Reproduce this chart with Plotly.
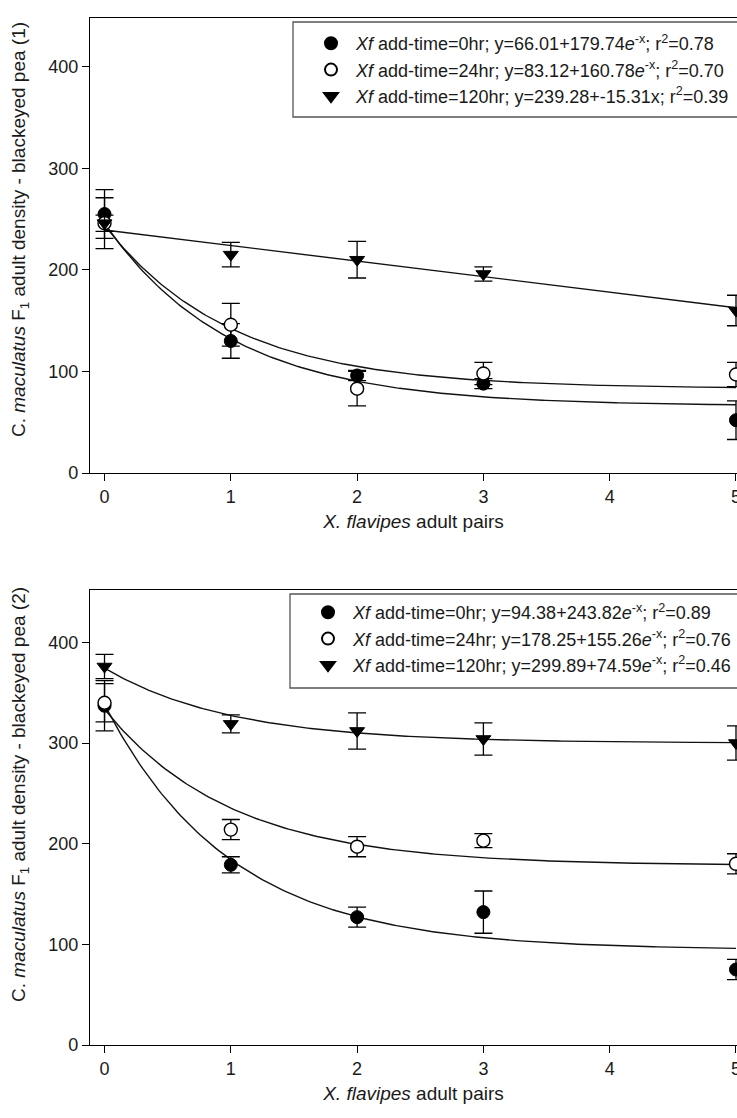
import numpy as np
import plotly.graph_objects as go

W, H = 737, 1118

# ---------------- data ----------------
pairs = [0, 1, 2, 3, 5]

# panel 1
p1_0hr = [255, 130, 96, 88, 52]
p1_0hr_err = [24, 17, 5, 5, 19]
p1_24hr = [246, 146, 83, 98, 97]
p1_24hr_err = [25, 21, 17, 11, 12]
p1_120hr = [246, 215, 210, 196, 160]
p1_120hr_err = [8, 12, 18, 7, 15]

# panel 2
p2_0hr = [337, 179, 127, 132, 75]
p2_0hr_err = [25, 8, 10, 21, 10]
p2_24hr = [340, 214, 197, 203, 180]
p2_24hr_err = [19, 10, 10, 7, 10]
p2_120hr = [376, 319, 312, 304, 300]
p2_120hr_err = [12, 9, 18, 16, 17]

# fitted-equation coefficients given in the legends
p1_fit_0hr = (66.01, 179.74)      # a + b*exp(-x)
p1_fit_24hr = (83.12, 160.78)     # a + b*exp(-x)
p1_fit_120hr = (239.28, -15.31)   # a + b*x
p2_fit_0hr = (94.38, 243.82)
p2_fit_24hr = (178.25, 155.26)
p2_fit_120hr = (299.89, 74.59)

p1_labels = [
    "<i>Xf</i> add-time=0hr; y=66.01+179.74<i>e</i><sup>-x</sup>; r<sup>2</sup>=0.78",
    "<i>Xf</i> add-time=24hr; y=83.12+160.78<i>e</i><sup>-x</sup>; r<sup>2</sup>=0.70",
    "<i>Xf</i> add-time=120hr; y=239.28+-15.31x; r<sup>2</sup>=0.39",
]
p2_labels = [
    "<i>Xf</i> add-time=0hr; y=94.38+243.82<i>e</i><sup>-x</sup>; r<sup>2</sup>=0.89",
    "<i>Xf</i> add-time=24hr; y=178.25+155.26<i>e</i><sup>-x</sup>; r<sup>2</sup>=0.76",
    "<i>Xf</i> add-time=120hr; y=299.89+74.59<i>e</i><sup>-x</sup>; r<sup>2</sup>=0.46",
]
y_titles = [
    "C. <i>maculatus</i> F<sub>1</sub> adult density - blackeyed pea (1)",
    "C. <i>maculatus</i> F<sub>1</sub> adult density - blackeyed pea (2)",
]
x_title = "<i>X. flavipes</i> adult pairs"
x_ticks = [0, 1, 2, 3, 4, 5]
y_ticks = [0, 100, 200, 300, 400]

FONT = "Liberation Sans, Arial, sans-serif"
TXT = "#1a1a1a"

def py(p):
    return 1 - p / H

fig = go.Figure()
xs = np.linspace(0, 5, 200)

def add_panel(idx, series, errs, labels, fits, kinds):
    xa = "x" if idx == 1 else "x2"
    ya = "y" if idx == 1 else "y2"
    legend = "legend" if idx == 1 else "legend2"
    for (a, b), kind in zip(fits, kinds):
        ys = a + b * np.exp(-xs) if kind == "exp" else a + b * xs
        fig.add_trace(go.Scatter(x=xs, y=ys, mode="lines", xaxis=xa, yaxis=ya,
                                 line=dict(color="#111", width=1.4),
                                 showlegend=False, hoverinfo="skip"))
    styles = [
        dict(symbol="circle", color="black", size=13, line=dict(color="black", width=1)),
        dict(symbol="circle", color="white", size=13, line=dict(color="black", width=1.4)),
        dict(symbol="triangle-down", color="black", size=13, line=dict(color="black", width=1)),
    ]
    for vals, err, lab, st in zip(series, errs, labels, styles):
        fig.add_trace(go.Scatter(
            x=pairs, y=vals, mode="markers", xaxis=xa, yaxis=ya, name=lab,
            legend=legend, marker=st,
            error_y=dict(type="data", array=err, visible=True, color="black",
                         thickness=1.3, width=9),
        ))

add_panel(1, [p1_0hr, p1_24hr, p1_120hr], [p1_0hr_err, p1_24hr_err, p1_120hr_err],
          p1_labels, [p1_fit_0hr, p1_fit_24hr, p1_fit_120hr], ["exp", "exp", "lin"])
add_panel(2, [p2_0hr, p2_24hr, p2_120hr], [p2_0hr_err, p2_24hr_err, p2_120hr_err],
          p2_labels, [p2_fit_0hr, p2_fit_24hr, p2_fit_120hr], ["exp", "exp", "exp"])

xdom = [90 / W, 1.0]
top_dom = [py(473), py(18)]
bot_dom = [py(1045), py(590)]
xrange_ = [-0.115, 5.008]

axis_common = dict(showline=True, linecolor="black", linewidth=1.3, ticks="outside",
                   ticklen=7, tickwidth=1.3, tickcolor="black", showgrid=False,
                   zeroline=False, tickfont=dict(family=FONT, size=18, color=TXT),
                   automargin=False, ticklabeloverflow="allow")
title_font = dict(family=FONT, size=19, color=TXT)
leg_font = dict(family=FONT, size=18, color=TXT)

fig.update_layout(
    width=W, height=H,
    margin=dict(l=0, r=0, t=0, b=0),
    paper_bgcolor="white", plot_bgcolor="white",
    font=dict(family=FONT, color=TXT),
    xaxis=dict(domain=xdom, anchor="y", range=xrange_, tickvals=x_ticks,
               mirror=True, title=dict(text=x_title, font=title_font, standoff=8),
               **axis_common),
    yaxis=dict(domain=top_dom, anchor="x", range=[0, 448], tickvals=y_ticks,
               **axis_common),
    xaxis2=dict(domain=xdom, anchor="y2", range=xrange_, tickvals=x_ticks,
                mirror=True, title=dict(text=x_title, font=title_font, standoff=8),
                **axis_common),
    yaxis2=dict(domain=bot_dom, anchor="x2", range=[0, 452], tickvals=y_ticks,
                **axis_common),
    legend=dict(x=306 / W, y=py(25), xanchor="left", yanchor="top",
                bgcolor="rgba(0,0,0,0)", borderwidth=0, itemwidth=40,
                font=leg_font, tracegroupgap=0, itemsizing="constant"),
    legend2=dict(x=303 / W, y=py(594), xanchor="left", yanchor="top",
                 bgcolor="rgba(0,0,0,0)", borderwidth=0, itemwidth=40,
                 font=leg_font, tracegroupgap=0, itemsizing="constant"),
    shapes=[
        dict(type="rect", xref="paper", yref="paper", x0=293 / W, x1=760 / W,
             y0=py(117), y1=py(22), fillcolor="white",
             line=dict(color="#555", width=1.3), layer="above"),
        dict(type="rect", xref="paper", yref="paper", x0=290 / W, x1=760 / W,
             y0=py(688), y1=py(594), fillcolor="white",
             line=dict(color="#555", width=1.3), layer="above"),
    ],
    annotations=[
        dict(text=y_titles[0], xref="paper", yref="paper", x=20 / W, y=py(230),
             textangle=-90, showarrow=False, font=title_font,
             xanchor="center", yanchor="middle"),
        dict(text=y_titles[1], xref="paper", yref="paper", x=20 / W, y=py(795),
             textangle=-90, showarrow=False, font=title_font,
             xanchor="center", yanchor="middle"),
    ],
    showlegend=True,
)

fig.write_html("out.html")
